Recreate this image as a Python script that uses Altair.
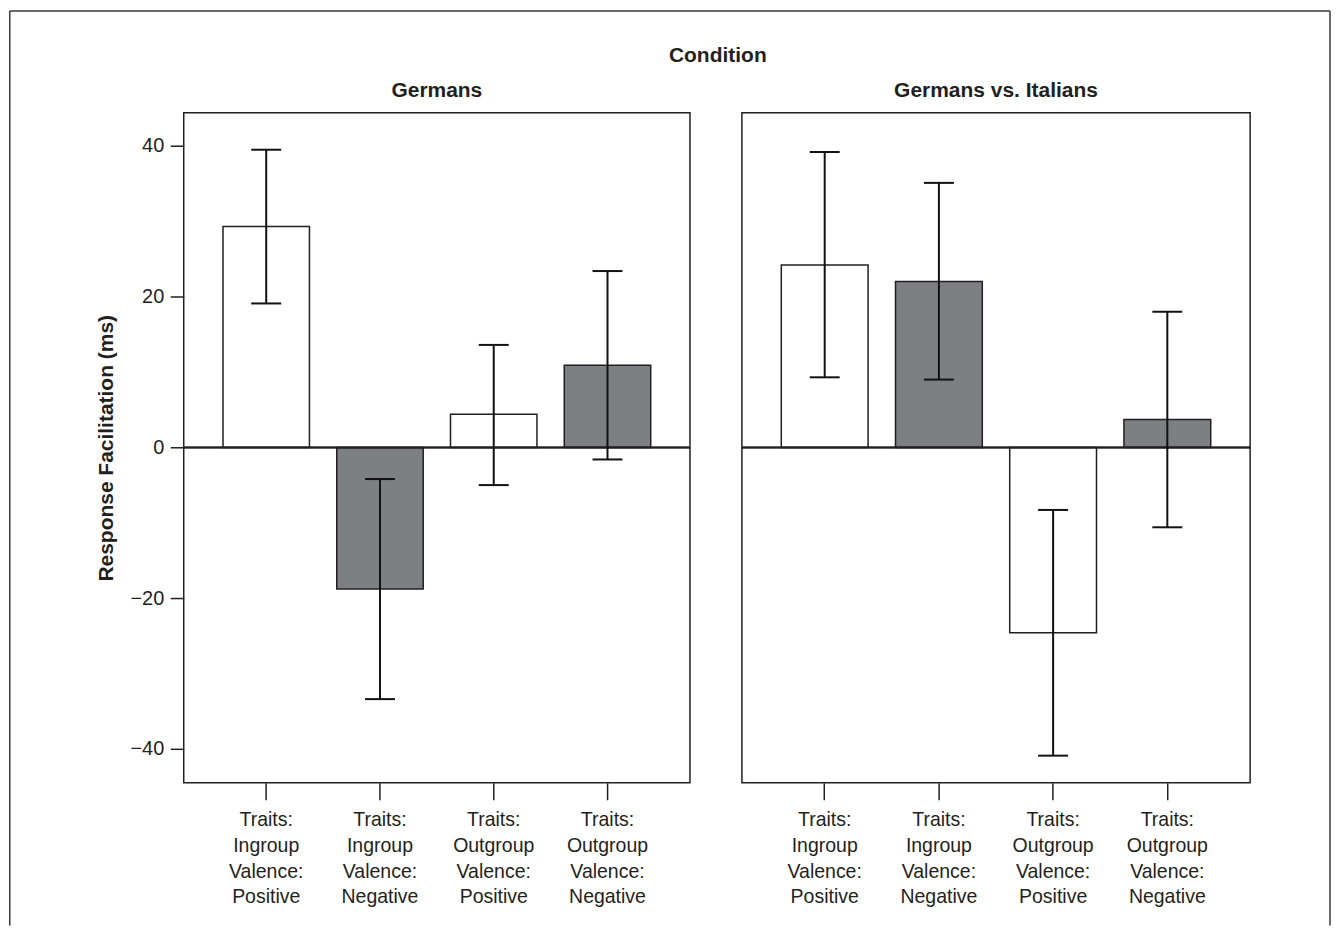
import altair as alt
import pandas as pd

# ---- data ----
conditions = ["Germans", "Germans vs. Italians"]
categories = [
    "Traits:|Ingroup|Valence:|Positive",
    "Traits:|Ingroup|Valence:|Negative",
    "Traits:|Outgroup|Valence:|Positive",
    "Traits:|Outgroup|Valence:|Negative",
]
valence = ["Positive", "Negative", "Positive", "Negative"]

germans_mean = [29.3, -18.8, 4.4, 10.9]
germans_low = [19.1, -33.4, -5.0, -1.6]
germans_high = [39.5, -4.2, 13.6, 23.4]

italians_mean = [24.2, 22.0, -24.6, 3.7]
italians_low = [9.3, 9.0, -40.9, -10.6]
italians_high = [39.2, 35.1, -8.3, 18.0]

y_ticks = [-40, -20, 0, 20, 40]
y_domain = [-44.5, 44.4]

FONT = "Liberation Sans"
INK = "#231f20"
GRAY = "#7e7f83"
PANEL_H = 671


def panel(title, means, lows, highs, show_y, width):
    df = pd.DataFrame({
        "category": categories,
        "valence": valence,
        "mean": means,
        "low": lows,
        "high": highs,
    })
    x = alt.X(
        "category:N",
        sort=categories,
        scale=alt.Scale(paddingInner=0.24, paddingOuter=0.345),
        axis=alt.Axis(
            title=None,
            labelExpr="split(datum.label, '|')",
            labelAngle=0,
            labelAlign="center",
            labelBaseline="top",
            labelFont=FONT,
            labelFontSize=19.5,
            labelLineHeight=25.7,
            labelColor=INK,
            labelPadding=11,
            tickSize=17,
            tickWidth=1.5,
            tickColor=INK,
            domain=False,
            grid=False,
        ),
    )
    if show_y:
        y_axis = alt.Axis(
            values=y_ticks,
            title="Response Facilitation (ms)",
            titleFont=FONT,
            titleFontSize=21,
            titleFontWeight="bold",
            titleColor=INK,
            titleAngle=270,
            titleAlign="center",
            titleBaseline="alphabetic",
            titleX=-71,
            titleY=PANEL_H / 2,
            labelFont=FONT,
            labelFontSize=20,
            labelColor=INK,
            labelPadding=6.5,
            tickSize=13.5,
            tickWidth=1.5,
            tickColor=INK,
            domain=False,
            grid=False,
        )
    else:
        y_axis = None
    yscale = alt.Scale(domain=y_domain, nice=False, zero=False)
    base = alt.Chart(df)
    bars = base.mark_bar(stroke=INK, strokeWidth=1.5).encode(
        x=x,
        y=alt.Y("mean:Q", scale=yscale, axis=y_axis),
        y2=alt.datum(0),
        color=alt.Color(
            "valence:N",
            scale=alt.Scale(domain=["Positive", "Negative"], range=["#ffffff", GRAY]),
            legend=None,
        ),
    )
    zero = base.mark_rule(color=INK, strokeWidth=1.5).encode(y=alt.datum(0))
    err = base.mark_rule(color="#111111", strokeWidth=2).encode(
        x=alt.X("category:N", sort=categories),
        y="low:Q",
        y2="high:Q",
    )
    cap_lo = base.mark_tick(color="#111111", size=30, thickness=2, opacity=1).encode(
        x=alt.X("category:N", sort=categories), y="low:Q"
    )
    cap_hi = base.mark_tick(color="#111111", size=30, thickness=2, opacity=1).encode(
        x=alt.X("category:N", sort=categories), y="high:Q"
    )
    return alt.layer(bars, zero, err, cap_lo, cap_hi).properties(
        width=width,
        height=PANEL_H,
        title=alt.TitleParams(
            title,
            font=FONT,
            fontSize=21,
            fontWeight="bold",
            color=INK,
            baseline="alphabetic",
            offset=-5.5,
        ),
    )


left = panel(conditions[0], germans_mean, germans_low, germans_high, True, 507)
right = panel(conditions[1], italians_mean, italians_low, italians_high, False, 509)

# decorative figure frame (top, left, right edges)
frame_df = pd.DataFrame({"k": [0]})
FRAME = "#3a3a3a"
fb = alt.Chart(frame_df)
frame = alt.layer(
    fb.mark_rule(color=FRAME, strokeWidth=1.5).encode(
        x=alt.value(-1294.25), y=alt.value(-102), y2=alt.value(814)
    ),
    fb.mark_rule(color=FRAME, strokeWidth=1.5).encode(
        x=alt.value(28), y=alt.value(-102), y2=alt.value(814)
    ),
    fb.mark_rule(color=FRAME, strokeWidth=1.5).encode(
        x=alt.value(-1294.25), x2=alt.value(28), y=alt.value(-102)
    ),
).properties(width=1, height=PANEL_H, view=alt.ViewBackground(stroke="transparent"))

chart = alt.hconcat(left, right, frame, spacing=52, bounds="flush").properties(
    title=alt.TitleParams(
        "Condition",
        font=FONT,
        fontSize=21,
        fontWeight="bold",
        color=INK,
        anchor="middle",
        baseline="alphabetic",
        offset=-74,
        dx=48,
    ),
    padding={"left": 0, "top": 0.25, "right": 0, "bottom": 0},
).configure_view(stroke=INK, strokeWidth=1.5)

chart.save("out.html", embed_options={"renderer": "svg", "actions": False})
